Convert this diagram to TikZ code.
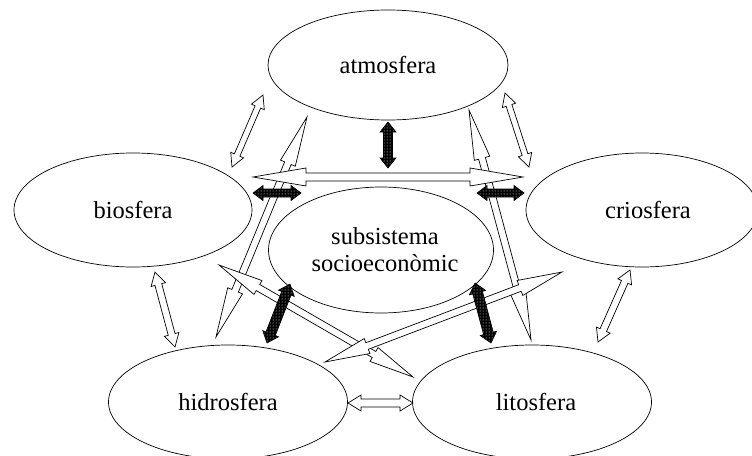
\documentclass[tikz,border=0pt]{standalone}
\usepackage{fontspec}
\setmainfont{Liberation Serif}
\usetikzlibrary{shapes.geometric,calc,patterns}
\newcommand\blkarrow[6]{% style, from, to, shaft half, head half, head length
  \coordinate (bA) at ($(#2)!#6!(#3)$);
  \coordinate (bB) at ($(#3)!#6!(#2)$);
  \draw[#1] (#2) -- ($(bA)!#5!90:(#3)$) -- ($(bA)!#4!90:(#3)$) -- ($(bB)!#4!90:(#3)$)
    -- ($(bB)!#5!90:(#3)$) -- (#3) -- ($(bB)!#5!-90:(#3)$) -- ($(bB)!#4!-90:(#3)$)
    -- ($(bA)!#4!-90:(#3)$) -- ($(bA)!#5!-90:(#3)$) -- cycle;
}
\tikzset{
  sphere/.style={ellipse, draw, line width=0.7pt, inner sep=0pt,
    font=\fontsize{24.5}{27}\selectfont, align=center},
  wa/.style={draw, fill=white, line width=0.7pt, line join=miter},
  dk/.style={draw, line width=0.6pt, preaction={fill=black}, pattern=dots, pattern color=white}
}
\begin{document}
\begin{tikzpicture}[x=1pt,y=-1pt]
\useasboundingbox (0,0) rectangle (752,455);
% spheres
\node[sphere, minimum width=240pt, minimum height=110pt] (atm) at (388,65) {atmosfera};
\node[sphere, minimum width=238pt, minimum height=114pt] (bio) at (133,210) {biosfera};
\node[sphere, minimum width=232pt, minimum height=114pt] (crio) at (642,210) {\hspace*{12pt}criosfera};
\node[sphere, minimum width=225pt, minimum height=126pt] (sub) at (381,250) {\hspace*{8pt}subsistema\\\hspace*{8pt}socioeconòmic};
\node[sphere, minimum width=239pt, minimum height=114pt] (hid) at (228,402) {hidrosfera};
\node[sphere, minimum width=239pt, minimum height=114pt] (lit) at (532,402) {\hspace*{8pt}litosfera};
% connector end points
\coordinate (ab1) at (263,95);   \coordinate (ab2) at (232,167);
\coordinate (ac1) at (505,93);   \coordinate (ac2) at (529,167);
\coordinate (bh1) at (155,272);  \coordinate (bh2) at (175,347);
\coordinate (cl1) at (630,270);  \coordinate (cl2) at (598,342);
\coordinate (hl1) at (348,403);  \coordinate (hl2) at (413,403);
\coordinate (bc1) at (253,177);  \coordinate (bc2) at (523,177);
\coordinate (ah1) at (307,117);  \coordinate (ah2) at (216,337);
\coordinate (al1) at (469,110);  \coordinate (al2) at (531,340);
\coordinate (bl1) at (219,265);  \coordinate (bl2) at (413,377);
\coordinate (hc1) at (325,362);  \coordinate (hc2) at (562,272);
\coordinate (as1) at (388,122);  \coordinate (as2) at (388,168);
\coordinate (bs1) at (253,193);  \coordinate (bs2) at (301,193);
\coordinate (cs1) at (477,193);  \coordinate (cs2) at (524,193);
\coordinate (sh1) at (290,284);  \coordinate (sh2) at (267,343);
\coordinate (sl1) at (475,283);  \coordinate (sl2) at (491,343);
% white arrows between outer spheres
\blkarrow{wa}{ab1}{ab2}{3pt}{7pt}{13pt}
\blkarrow{wa}{ac1}{ac2}{3pt}{7pt}{13pt}
\blkarrow{wa}{bh1}{bh2}{3.5pt}{7.5pt}{13pt}
\blkarrow{wa}{cl1}{cl2}{3.5pt}{7.5pt}{13pt}
\blkarrow{wa}{hl1}{hl2}{4pt}{8pt}{13pt}
% long arrows
\blkarrow{wa}{ah1}{ah2}{3.5pt}{8pt}{50pt}
\blkarrow{wa}{al1}{al2}{3.5pt}{8pt}{50pt}
\blkarrow{wa}{bl1}{bl2}{3.5pt}{8pt}{45pt}
\blkarrow{wa}{hc1}{hc2}{3.5pt}{8pt}{45pt}
\blkarrow{wa}{bc1}{bc2}{4pt}{9pt}{53pt}
% dark arrows to the socio-economic subsystem
\blkarrow{dk}{as1}{as2}{4.5pt}{8pt}{10pt}
\blkarrow{dk}{bs1}{bs2}{4pt}{7.5pt}{10pt}
\blkarrow{dk}{cs1}{cs2}{4pt}{7.5pt}{10pt}
\blkarrow{dk}{sh1}{sh2}{5pt}{8.5pt}{10pt}
\blkarrow{dk}{sl1}{sl2}{5pt}{8.5pt}{10pt}
\end{tikzpicture}
\end{document}
